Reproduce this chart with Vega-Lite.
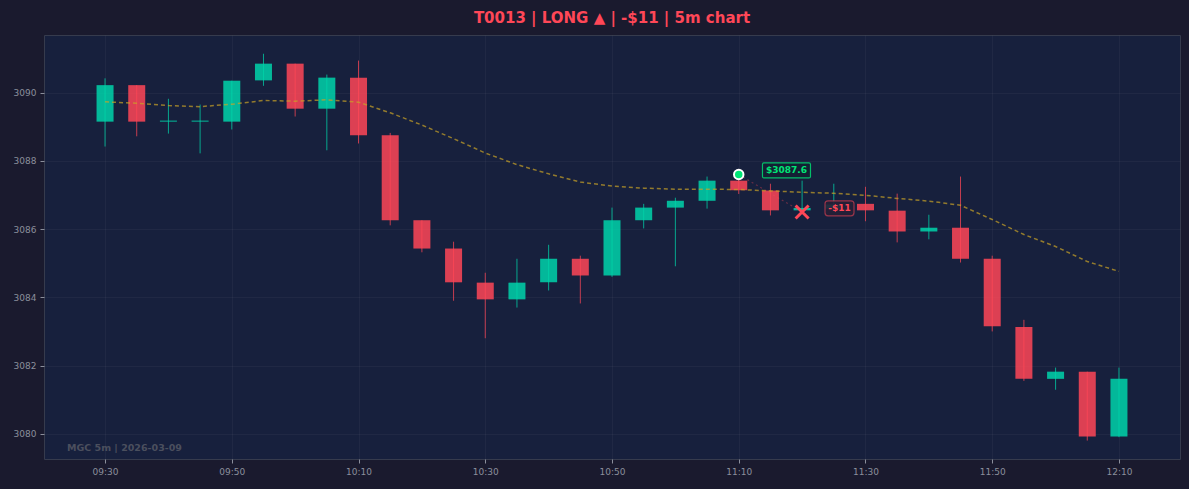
{
  "$schema": "https://vega.github.io/schema/vega-lite/v6.json",
  "width": 1136,
  "height": 424,
  "autosize": {"type": "none"},
  "padding": {"left": 44, "top": 35, "right": 9, "bottom": 30},
  "background": "#1a1a2e",
  "title": {
    "text": "T0013 | LONG ▲ | -$11 | 5m chart",
    "color": "#ff4757",
    "font": "DejaVu Sans",
    "fontSize": 15,
    "fontWeight": "bold",
    "anchor": "middle",
    "offset": 9
  },
  "datasets": {
    "candles": [
      {"t": "2026-03-09T09:30:00", "dir": "up", "o": 3089.15, "h": 3090.42, "l": 3088.42, "c": 3090.22, "ma": 3089.73},
      {"t": "2026-03-09T09:35:00", "dir": "down", "o": 3090.22, "h": 3090.22, "l": 3088.72, "c": 3089.15, "ma": 3089.69},
      {"t": "2026-03-09T09:40:00", "dir": "up", "o": 3089.15, "h": 3089.82, "l": 3088.8, "c": 3089.18, "ma": 3089.62},
      {"t": "2026-03-09T09:45:00", "dir": "up", "o": 3089.15, "h": 3089.65, "l": 3088.22, "c": 3089.18, "ma": 3089.59},
      {"t": "2026-03-09T09:50:00", "dir": "up", "o": 3089.15, "h": 3090.35, "l": 3088.92, "c": 3090.35, "ma": 3089.66},
      {"t": "2026-03-09T09:55:00", "dir": "up", "o": 3090.36, "h": 3091.14, "l": 3090.2, "c": 3090.85, "ma": 3089.77},
      {"t": "2026-03-09T10:00:00", "dir": "down", "o": 3090.85, "h": 3090.85, "l": 3089.3, "c": 3089.53, "ma": 3089.75},
      {"t": "2026-03-09T10:05:00", "dir": "up", "o": 3089.53, "h": 3090.53, "l": 3088.31, "c": 3090.44, "ma": 3089.79},
      {"t": "2026-03-09T10:10:00", "dir": "down", "o": 3090.44, "h": 3090.94, "l": 3088.51, "c": 3088.75, "ma": 3089.72},
      {"t": "2026-03-09T10:15:00", "dir": "down", "o": 3088.75, "h": 3088.82, "l": 3086.11, "c": 3086.26, "ma": 3089.41},
      {"t": "2026-03-09T10:20:00", "dir": "down", "o": 3086.26, "h": 3086.26, "l": 3085.32, "c": 3085.43, "ma": 3089.05},
      {"t": "2026-03-09T10:25:00", "dir": "down", "o": 3085.43, "h": 3085.63, "l": 3083.9, "c": 3084.44, "ma": 3088.65},
      {"t": "2026-03-09T10:30:00", "dir": "down", "o": 3084.43, "h": 3084.72, "l": 3082.8, "c": 3083.94, "ma": 3088.23},
      {"t": "2026-03-09T10:35:00", "dir": "up", "o": 3083.94, "h": 3085.13, "l": 3083.7, "c": 3084.43, "ma": 3087.89},
      {"t": "2026-03-09T10:40:00", "dir": "up", "o": 3084.44, "h": 3085.54, "l": 3084.2, "c": 3085.13, "ma": 3087.62},
      {"t": "2026-03-09T10:45:00", "dir": "down", "o": 3085.13, "h": 3085.22, "l": 3083.82, "c": 3084.64, "ma": 3087.38},
      {"t": "2026-03-09T10:50:00", "dir": "up", "o": 3084.64, "h": 3086.63, "l": 3084.6, "c": 3086.26, "ma": 3087.26},
      {"t": "2026-03-09T10:55:00", "dir": "up", "o": 3086.26, "h": 3086.74, "l": 3086.02, "c": 3086.63, "ma": 3087.2},
      {"t": "2026-03-09T11:00:00", "dir": "up", "o": 3086.63, "h": 3086.92, "l": 3084.91, "c": 3086.83, "ma": 3087.17},
      {"t": "2026-03-09T11:05:00", "dir": "up", "o": 3086.83, "h": 3087.54, "l": 3086.6, "c": 3087.42, "ma": 3087.17},
      {"t": "2026-03-09T11:10:00", "dir": "down", "o": 3087.42, "h": 3087.45, "l": 3087.03, "c": 3087.14, "ma": 3087.16},
      {"t": "2026-03-09T11:15:00", "dir": "down", "o": 3087.13, "h": 3087.33, "l": 3086.4, "c": 3086.55, "ma": 3087.12},
      {"t": "2026-03-09T11:20:00", "dir": "up", "o": 3086.55, "h": 3087.42, "l": 3086.45, "c": 3086.62, "ma": 3087.08},
      {"t": "2026-03-09T11:25:00", "dir": "up", "o": 3086.6, "h": 3087.33, "l": 3086.55, "c": 3086.72, "ma": 3087.05},
      {"t": "2026-03-09T11:30:00", "dir": "down", "o": 3086.74, "h": 3087.24, "l": 3086.23, "c": 3086.55, "ma": 3086.99},
      {"t": "2026-03-09T11:35:00", "dir": "down", "o": 3086.54, "h": 3087.04, "l": 3085.61, "c": 3085.93, "ma": 3086.9},
      {"t": "2026-03-09T11:40:00", "dir": "up", "o": 3085.93, "h": 3086.42, "l": 3085.7, "c": 3086.04, "ma": 3086.82},
      {"t": "2026-03-09T11:45:00", "dir": "down", "o": 3086.04, "h": 3087.54, "l": 3085.02, "c": 3085.13, "ma": 3086.7},
      {"t": "2026-03-09T11:50:00", "dir": "down", "o": 3085.13, "h": 3085.22, "l": 3083.0, "c": 3083.15, "ma": 3086.28},
      {"t": "2026-03-09T11:55:00", "dir": "down", "o": 3083.13, "h": 3083.34, "l": 3081.55, "c": 3081.61, "ma": 3085.84},
      {"t": "2026-03-09T12:00:00", "dir": "up", "o": 3081.61, "h": 3081.94, "l": 3081.29, "c": 3081.82, "ma": 3085.49},
      {"t": "2026-03-09T12:05:00", "dir": "down", "o": 3081.82, "h": 3081.82, "l": 3079.8, "c": 3079.92, "ma": 3085.05},
      {"t": "2026-03-09T12:10:00", "dir": "up", "o": 3079.92, "h": 3081.94, "l": 3079.9, "c": 3081.61, "ma": 3084.76}
    ],
    "trade": [
      {"t": "2026-03-09T11:10:00", "p": 3087.6, "t2": "2026-03-09T11:20:00", "p2": 3086.5}
    ],
    "entry": [{"t": "2026-03-09T11:10:00", "p": 3087.6}],
    "exit": [{"t": "2026-03-09T11:20:00", "p": 3086.5}],
    "entryLabel": [{"t": "2026-03-09T11:17:32", "p": 3087.72, "txt": "$3087.6"}],
    "exitLabel": [{"t": "2026-03-09T11:25:54", "p": 3086.61, "txt": "-$11"}],
    "note": [{"t": "2026-03-09T09:24:00", "p": 3079.58, "txt": "MGC 5m | 2026-03-09"}]
  },
  "encoding": {
    "x": {
      "field": "t",
      "type": "temporal",
      "title": null,
      "scale": {
        "domain": [
          {"year": 2026, "month": 3, "date": 9, "hours": 9, "minutes": 20, "seconds": 22},
          {"year": 2026, "month": 3, "date": 9, "hours": 12, "minutes": 19, "seconds": 38}
        ],
        "nice": false,
        "padding": 0
      },
      "axis": {
        "format": "%H:%M",
        "labelPadding": 4,
        "values": [
          {"year": 2026, "month": 3, "date": 9, "hours": 9, "minutes": 30},
          {"year": 2026, "month": 3, "date": 9, "hours": 9, "minutes": 50},
          {"year": 2026, "month": 3, "date": 9, "hours": 10, "minutes": 10},
          {"year": 2026, "month": 3, "date": 9, "hours": 10, "minutes": 30},
          {"year": 2026, "month": 3, "date": 9, "hours": 10, "minutes": 50},
          {"year": 2026, "month": 3, "date": 9, "hours": 11, "minutes": 10},
          {"year": 2026, "month": 3, "date": 9, "hours": 11, "minutes": 30},
          {"year": 2026, "month": 3, "date": 9, "hours": 11, "minutes": 50},
          {"year": 2026, "month": 3, "date": 9, "hours": 12, "minutes": 10}
        ]
      }
    }
  },
  "layer": [
    {
      "data": {"name": "candles"},
      "mark": {"type": "bar", "width": 17, "opacity": 0.85},
      "encoding": {
        "y": {
          "field": "o",
          "type": "quantitative",
          "title": null,
          "scale": {"domain": [3079.26, 3091.69], "nice": false, "zero": false},
          "axis": {"values": [3080, 3082, 3084, 3086, 3088, 3090], "format": "d", "labelPadding": 4}
        },
        "y2": {"field": "c"},
        "color": {
          "field": "dir",
          "type": "nominal",
          "scale": {"domain": ["up", "down"], "range": ["#00d4aa", "#ff4757"]},
          "legend": null
        }
      }
    },
    {
      "data": {"name": "candles"},
      "mark": {"type": "rule", "strokeWidth": 1, "opacity": 0.75},
      "encoding": {
        "y": {"field": "l", "type": "quantitative", "title": null, "scale": {"domain": [3079.26, 3091.69], "nice": false, "zero": false}},
        "y2": {"field": "h"},
        "color": {"field": "dir", "type": "nominal", "legend": null}
      }
    },
    {
      "data": {"name": "candles"},
      "mark": {"type": "line", "color": "#c9a227", "opacity": 0.7, "strokeWidth": 1.5, "strokeDash": [4, 3]},
      "encoding": {
        "y": {"field": "ma", "type": "quantitative", "title": null, "scale": {"domain": [3079.26, 3091.69], "nice": false, "zero": false}}
      }
    },
    {
      "data": {"name": "trade"},
      "mark": {"type": "rule", "color": "#ff4757", "opacity": 0.35, "strokeWidth": 1.2, "strokeDash": [2, 3]},
      "encoding": {
        "y": {"field": "p", "type": "quantitative", "title": null, "scale": {"domain": [3079.26, 3091.69], "nice": false, "zero": false}},
        "x2": {"field": "t2"},
        "y2": {"field": "p2"}
      }
    },
    {
      "data": {"name": "entry"},
      "mark": {"type": "point", "shape": "circle", "filled": true, "fill": "#00e676", "stroke": "#ffffff", "strokeWidth": 2, "size": 90, "opacity": 1},
      "encoding": {
        "y": {"field": "p", "type": "quantitative", "title": null, "scale": {"domain": [3079.26, 3091.69], "nice": false, "zero": false}}
      }
    },
    {
      "data": {"name": "exit"},
      "mark": {"type": "point", "shape": "M-1,-1L1,1M1,-1L-1,1", "filled": false, "stroke": "#ff4757", "strokeWidth": 3, "size": 169, "opacity": 1},
      "encoding": {
        "y": {"field": "p", "type": "quantitative", "title": null, "scale": {"domain": [3079.26, 3091.69], "nice": false, "zero": false}}
      }
    },
    {
      "data": {"name": "entryLabel"},
      "mark": {
        "type": "point",
        "shape": "M-0.9375,-0.3125L0.9375,-0.3125Q1,-0.3125 1,-0.25L1,0.25Q1,0.3125 0.9375,0.3125L-0.9375,0.3125Q-1,0.3125 -1,0.25L-1,-0.25Q-1,-0.3125 -0.9375,-0.3125Z",
        "filled": true,
        "fill": "#142033",
        "fillOpacity": 0.9,
        "stroke": "#00e676",
        "strokeOpacity": 0.8,
        "strokeWidth": 1.2,
        "size": 2304
      },
      "encoding": {
        "y": {"field": "p", "type": "quantitative", "title": null, "scale": {"domain": [3079.26, 3091.69], "nice": false, "zero": false}}
      }
    },
    {
      "data": {"name": "entryLabel"},
      "mark": {"type": "text", "color": "#00e676", "font": "DejaVu Sans", "fontSize": 9, "fontWeight": "bold", "align": "center", "baseline": "middle"},
      "encoding": {
        "y": {"field": "p", "type": "quantitative", "title": null, "scale": {"domain": [3079.26, 3091.69], "nice": false, "zero": false}},
        "text": {"field": "txt"}
      }
    },
    {
      "data": {"name": "exitLabel"},
      "mark": {
        "type": "point",
        "shape": "M-0.793,-0.517L0.793,-0.517Q1,-0.517 1,-0.31L1,0.31Q1,0.517 0.793,0.517L-0.793,0.517Q-1,0.517 -1,0.31L-1,-0.31Q-1,-0.517 -0.793,-0.517Z",
        "filled": true,
        "fill": "#261f36",
        "fillOpacity": 0.9,
        "stroke": "#ff4757",
        "strokeOpacity": 0.55,
        "strokeWidth": 1.2,
        "size": 841
      },
      "encoding": {
        "y": {"field": "p", "type": "quantitative", "title": null, "scale": {"domain": [3079.26, 3091.69], "nice": false, "zero": false}}
      }
    },
    {
      "data": {"name": "exitLabel"},
      "mark": {"type": "text", "color": "#ff4757", "font": "DejaVu Sans", "fontSize": 9, "fontWeight": "bold", "align": "center", "baseline": "middle"},
      "encoding": {
        "y": {"field": "p", "type": "quantitative", "title": null, "scale": {"domain": [3079.26, 3091.69], "nice": false, "zero": false}},
        "text": {"field": "txt"}
      }
    },
    {
      "data": {"name": "note"},
      "mark": {"type": "text", "color": "#4b4f5e", "font": "DejaVu Sans", "fontSize": 9.5, "fontWeight": "bold", "align": "left", "baseline": "middle"},
      "encoding": {
        "y": {"field": "p", "type": "quantitative", "title": null, "scale": {"domain": [3079.26, 3091.69], "nice": false, "zero": false}},
        "text": {"field": "txt"}
      }
    }
  ],
  "config": {
    "font": "DejaVu Sans",
    "view": {"fill": "#17203d", "stroke": "#363b4d", "strokeWidth": 1},
    "axis": {
      "labelFont": "DejaVu Sans",
      "labelColor": "#8b8f9c",
      "labelFontSize": 9,
      "tickColor": "#8b8f9c",
      "tickSize": 4,
      "domain": false,
      "grid": true,
      "gridColor": "#ffffff",
      "gridOpacity": 0.04
    }
  }
}
